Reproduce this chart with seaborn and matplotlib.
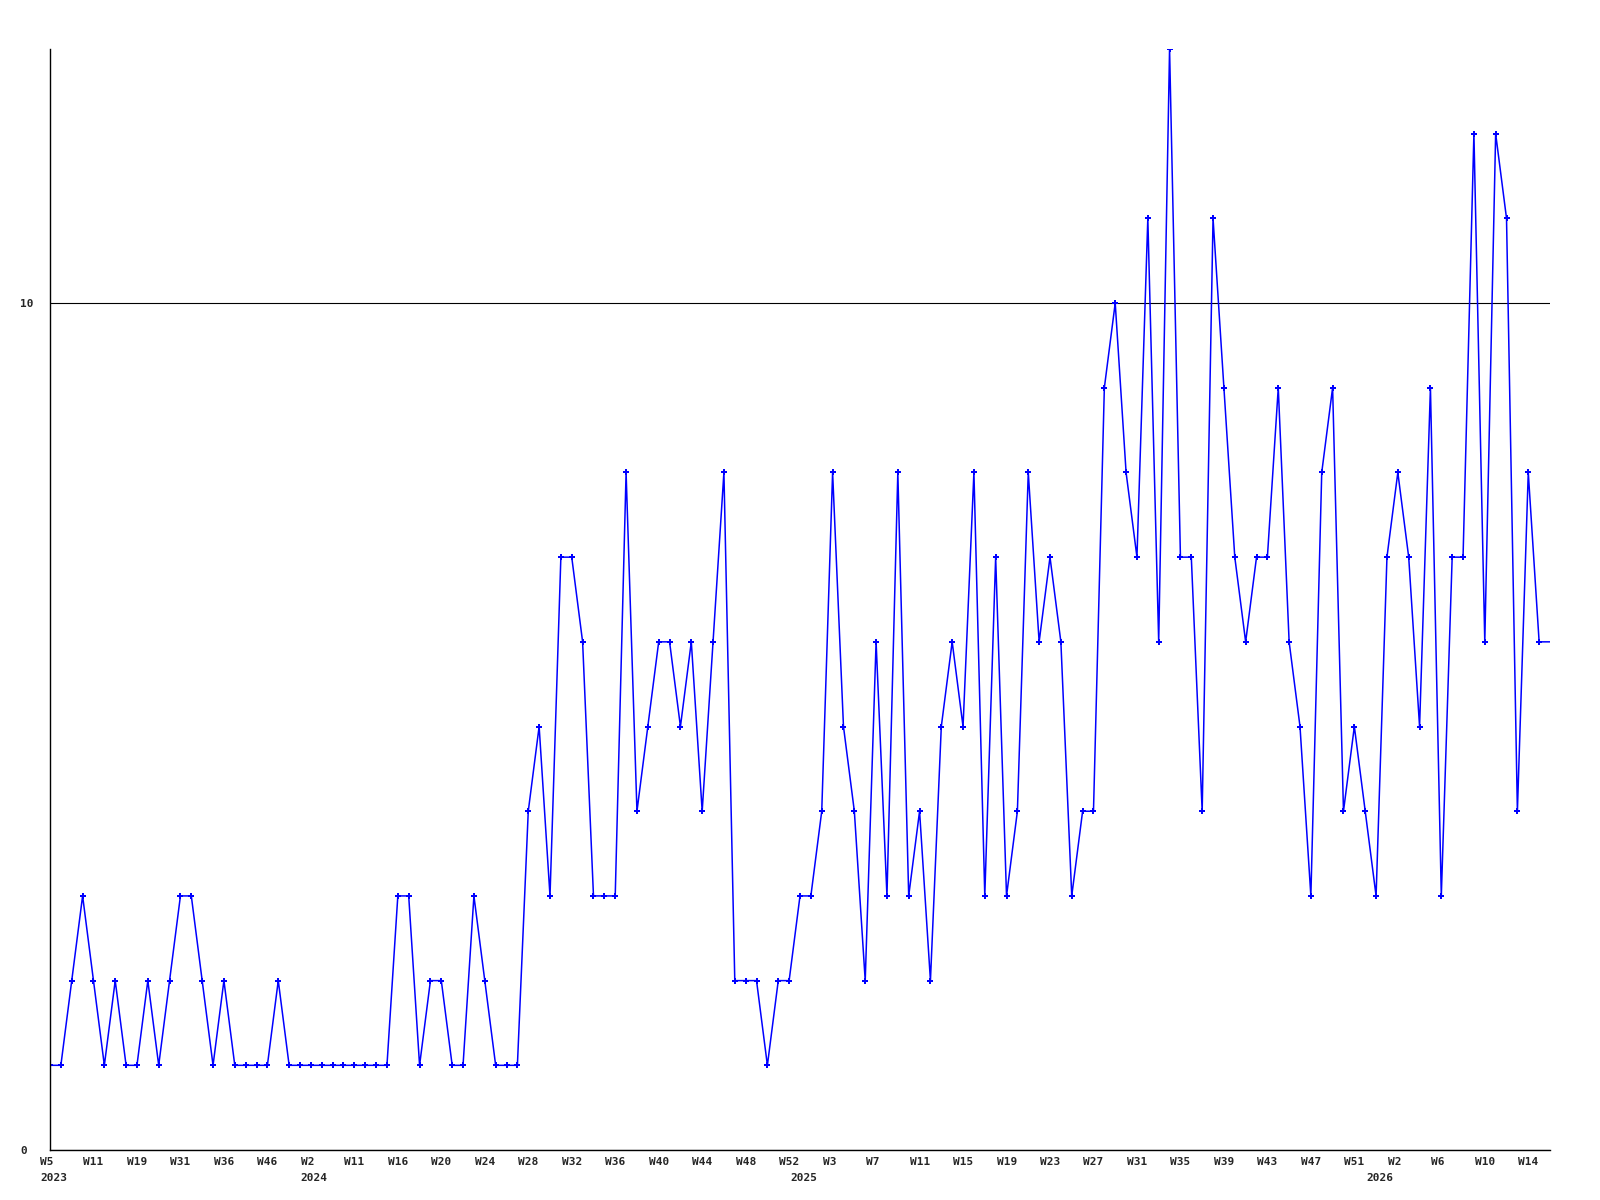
import pandas as pd
import matplotlib.pyplot as plt
import matplotlib.transforms as mtransforms
import seaborn as sns

# weekly counts, one point per week shown on the chart
counts = [
    1, 1, 2, 3, 2, 1, 2, 1, 1, 2, 1, 2, 3, 3, 2, 1, 2, 1, 1, 1, 1, 2,
    1, 1, 1, 1, 1, 1, 1, 1, 1, 1, 3, 3, 1, 2, 2, 1, 1, 3, 2, 1, 1, 1,
    4, 5, 3, 7, 7, 6, 3, 3, 3, 8, 4, 5, 6, 6, 5, 6, 4, 6, 8, 2, 2, 2,
    1, 2, 2, 3, 3, 4, 8, 5, 4, 2, 6, 3, 8, 3, 4, 2, 5, 6, 5, 8, 3, 7,
    3, 4, 8, 6, 7, 6, 3, 4, 4, 9, 10, 8, 7, 11, 6, 13, 7, 7, 4, 11, 9,
    7, 6, 7, 7, 9, 6, 5, 3, 8, 9, 4, 5, 4, 3, 7, 8, 7, 5, 9, 3, 7, 7,
    12, 6, 12, 11, 4, 8, 6, 6,
]

# tick labels, every 4th point
week_labels = [
    "W5", "W11", "W19", "W31", "W36", "W46", "W2", "W11", "W16", "W20",
    "W24", "W28", "W32", "W36", "W40", "W44", "W48", "W52", "W3", "W7",
    "W11", "W15", "W19", "W23", "W27", "W31", "W35", "W39", "W43", "W47",
    "W51", "W2", "W6", "W10", "W14",
]
years = ["2023", "2024", "2025", "2026"]
year_first_point = [0, 24, 69, 122]

df = pd.DataFrame({"idx": range(len(counts)), "count": counts})

sns.set_style("white")
plt.rcParams["font.family"] = ["DejaVu Sans Mono", "DejaVu Sans"]
plt.rcParams["font.weight"] = "bold"

fig = plt.figure(figsize=(16, 12), dpi=100)
ax = fig.add_axes([50 / 1600, 1 - 1150 / 1200, 1500 / 1600, 1101 / 1200])

sns.lineplot(data=df, x="idx", y="count", ax=ax, color="#0000ff", linewidth=1.1,
             marker="P", markersize=4.5, markeredgewidth=0,
             markevery=list(range(len(counts) - 1)))

ax.set_xlim(0, len(counts) - 1)
ax.set_ylim(0, 13)
ax.set_xlabel("")
ax.set_ylabel("")

for side in ["top", "right"]:
    ax.spines[side].set_visible(False)
for side in ["left", "bottom"]:
    ax.spines[side].set_color("black")
    ax.spines[side].set_linewidth(1)

ax.set_yticks([0, 10])
ax.set_yticklabels(["0", "10"], fontsize=8, fontweight="bold", ha="left")
ax.tick_params(axis="y", length=0, pad=21.5)
ax.yaxis.grid(True, color="black", linewidth=0.8)
ax.xaxis.grid(False)

shift = mtransforms.ScaledTranslation(-10 / 100, 0, fig.dpi_scale_trans)
ax.set_xticks(range(0, len(counts), 4))
ax.set_xticklabels(week_labels, fontsize=8, fontweight="bold", ha="left")
ax.tick_params(axis="x", length=0, pad=5)
for lab in ax.get_xticklabels():
    lab.set_transform(lab.get_transform() + shift)

# year row under the week labels
xtrans = mtransforms.blended_transform_factory(ax.transData, ax.transAxes)
for yr, pos in zip(years, year_first_point):
    ax.text(pos, -0.0205, yr, transform=xtrans + shift, fontsize=8,
            fontweight="bold", ha="left", va="top")

fig.savefig("out.png", dpi=100)
